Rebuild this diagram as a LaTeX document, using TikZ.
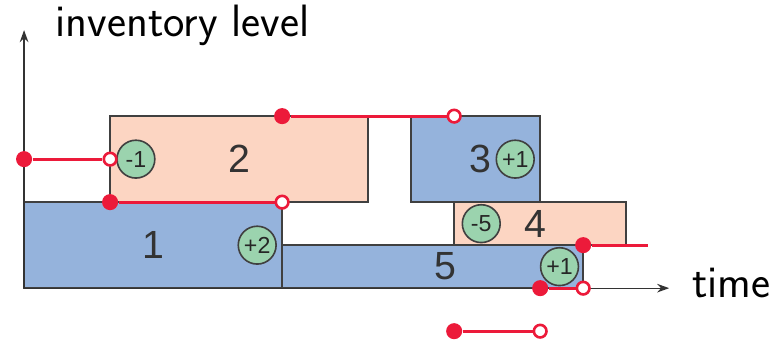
\documentclass[tikz,border=0pt]{standalone}
\usepackage{fontspec}
\newfontfamily\numfont{Liberation Sans}
\usetikzlibrary{arrows.meta}
\definecolor{boxblue}{RGB}{149,179,220}
\definecolor{boxpink}{RGB}{252,213,194}
\definecolor{evgreen}{RGB}{155,211,174}
\definecolor{invred}{RGB}{236,26,58}
\definecolor{edge}{RGB}{64,64,64}
\tikzset{
  bluebox/.style={draw=edge,line width=1pt,fill=boxblue},
  pinkbox/.style={draw=edge,line width=1pt,fill=boxpink},
  num/.style={font=\fontsize{19.5}{22}\numfont,text=black!80},
  ev/.style={circle,draw=edge,line width=.8pt,fill=evgreen,inner sep=0pt,
             minimum size=6.6mm,font=\fontsize{11.5}{13}\numfont,text=black!85},
  ax/.style={-{Stealth[length=2.1mm,width=1.5mm]},line width=.65pt,draw=black!80},
  seg/.style={draw=invred,line width=1.6pt},
  fdot/.style={circle,fill=invred,inner sep=0pt,minimum size=2.8mm},
  odot/.style={circle,draw=invred,fill=white,line width=1.3pt,inner sep=0pt,minimum size=2.2mm},
  axlbl/.style={font=\fontsize{22.5}{26}\sffamily,inner sep=0pt},
}
\begin{document}
\begin{tikzpicture}[x=.75cm,y=.75cm]
  \useasboundingbox (-0.56,-1.21) rectangle (17.53,6.70);
  % jobs on the time line
  \draw[bluebox] (0,0) rectangle (6,2);
  \draw[pinkbox] (2,2) rectangle (8,4);
  \draw[bluebox] (9,2) rectangle (12,4);
  \draw[pinkbox] (10,1) rectangle (14,2);
  \draw[bluebox] (6,0) rectangle (13,1);
  \node[num] (n1) at (3,1) {1};
  \node[num] (n2) at (5,3) {2};
  \node[num] (n3) at (10.6,3) {3};
  \node[num] (n4) at (11.9,1.5) {4};
  \node[num] (n5) at (9.8,0.5) {5};
  \node[ev] (e1) at (5.42,1) {+2};
  \node[ev] (e2) at (2.6,3) {-1};
  \node[ev] (e3) at (11.42,3) {+1};
  \node[ev] (e4) at (10.63,1.5) {-5};
  \node[ev] (e5) at (12.45,0.5) {+1};
  % axes
  \coordinate (o) at (0,0);
  \coordinate (ytop) at (0,6);
  \coordinate (xend) at (15,0);
  \draw[ax] (o) -- (ytop);
  \draw[ax] (o) -- (xend);
  \node[axlbl,anchor=base west] (ylbl) at (0.72,5.84) {inventory level};
  \node[axlbl,anchor=base west] (xlbl) at (15.53,-0.21) {time};
  % inventory level segments
  \foreach \i/\a/\b in {1/{(0,3)}/{(2,3)},2/{(2,2)}/{(6,2)},3/{(6,4)}/{(10,4)},
                        4/{(12,0)}/{(13,0)},5/{(10,-1)}/{(12,-1)}}{
    \node[fdot] (f\i) at \a {};
    \node[odot] (o\i) at \b {};
    \draw[seg] (f\i) -- (o\i);
  }
  \node[fdot] (f6) at (13,1) {};
  \coordinate (tail) at (14.5,1);
  \draw[seg] (f6) -- (tail);
\end{tikzpicture}
\end{document}
